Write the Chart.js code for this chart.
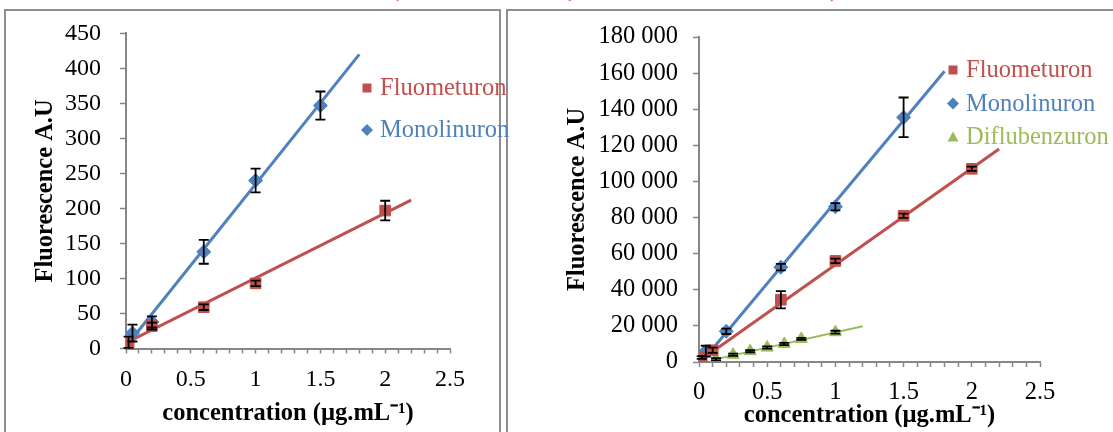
<!DOCTYPE html>
<html>
<head>
<meta charset="utf-8">
<script src="https://cdn.jsdelivr.net/npm/chart.js@4.4.1/dist/chart.umd.min.js"></script>
<style>
html, body { margin: 0; padding: 0; background: #fff; width: 1113px; height: 432px; overflow: hidden; }
body { position: relative; }
.panel { position: absolute; border: 2px solid #8f8f8f; box-sizing: border-box; }
canvas { position: absolute; left: 0; top: 0; }
.cap { position: absolute; color: #e8453c; font: 22px "Liberation Serif", serif; line-height: 22px; white-space: pre; }
</style>
</head>
<body>
<div class="panel" style="left:4px; top:9px; width:497px; height:440px;"></div>
<div class="panel" style="left:506px; top:9px; width:620px; height:440px;"></div>
<span class="cap" style="left:392px; top:-21px;">(</span>
<span class="cap" style="left:568px; top:-21px;">)</span>
<span class="cap" style="left:830px; top:-21px;">)</span>
<canvas id="leftChart" width="1113" height="432"></canvas>
<canvas id="rightChart" width="1113" height="432"></canvas>
<script>
// ---------- data : left panel ----------
const leftFluoX = [0.02, 0.2, 0.6, 1, 2];
const leftFluoY = [9, 32, 59, 93, 197];
const leftFluoErr = [8, 5, 4, 4, 14];
const leftMonoX = [0.05, 0.2, 0.6, 1, 1.5];
const leftMonoY = [22, 38, 138, 240, 347];
const leftMonoErr = [12, 8, 17, 17, 20];
const leftFluoTrendX = [0, 2.2];
const leftFluoTrendY = [8, 212];
const leftMonoTrendX = [0.03, 1.8];
const leftMonoTrendY = [10, 420];
const leftYTicks = [0, 50, 100, 150, 200, 250, 300, 350, 400, 450];

// ---------- data : right panel ----------
const rightFluoX = [0.02, 0.1, 0.6, 1, 1.5, 2];
const rightFluoY = [2500, 6500, 34500, 56000, 81000, 107000];
const rightFluoErr = [800, 1500, 4800, 1200, 1200, 1200];
const rightMonoX = [0.05, 0.2, 0.6, 1, 1.5];
const rightMonoY = [6000, 17000, 52500, 86000, 135500];
const rightMonoErr = [3000, 1500, 1800, 2000, 11000];
const rightDifluX = [0.125, 0.25, 0.375, 0.5, 0.625, 0.75, 1];
const rightDifluY = [1500, 4000, 6000, 8000, 10000, 12800, 16500];
const rightDifluErr = [600, 600, 600, 600, 600, 600, 800];
const rightFluoTrendX = [0.02, 2.2];
const rightFluoTrendY = [1500, 118000];
const rightMonoTrendX = [0.03, 1.8];
const rightMonoTrendY = [1000, 161000];
const rightDifluTrendX = [0.125, 1.2];
const rightDifluTrendY = [1600, 19800];
const rightYTicks = [0, 20000, 40000, 60000, 80000, 100000, 120000, 140000, 160000, 180000];

// ---------- shared axis labels ----------
const xTickValues = [0, 0.5, 1, 1.5, 2, 2.5];
const xMinorStep = 0.1;
const seriesNames = ['Fluometuron', 'Monolinuron', 'Diflubenzuron'];
const yTitle = 'Fluorescence A.U';
const xTitle = 'concentration (µg.mL⁻¹)';

const FONT = "'Liberation Serif', 'Times New Roman', serif";
const RED = '#C0504D', BLUE = '#4F81BD', GREEN = '#9BBB59', AXIS = '#878787';

function pts(xs, ys) { return xs.map((x, i) => ({ x: x, y: ys[i] })); }
function markers(label, xs, ys, errs, color, style, radius) {
  return { label: label, data: pts(xs, ys), errors: errs, showLine: false,
    pointStyle: style, pointRadius: radius, pointHoverRadius: radius,
    backgroundColor: color, borderColor: color, borderWidth: 1 };
}
function trend(xs, ys, color, width) {
  return { label: '', data: pts(xs, ys), showLine: true, pointRadius: 0, pointHoverRadius: 0,
    borderColor: color, backgroundColor: color, borderWidth: width, fill: false, trend: true };
}
function fmtSpace(v) { return String(v).replace(/\B(?=(\d{3})+(?!\d))/g, ' '); }

const minorTicks = [];
for (let i = 0; i <= Math.round(2.5 / xMinorStep); i++) minorTicks.push(+(i * xMinorStep).toFixed(2));

const errorBars = {
  id: 'errorBars',
  afterDatasetsDraw(chart) {
    const ctx = chart.ctx, ys = chart.scales.y, area = chart.chartArea;
    ctx.save();
    ctx.strokeStyle = '#000';
    ctx.lineWidth = 1.8;
    chart.data.datasets.forEach((ds, di) => {
      if (!ds.errors) return;
      const meta = chart.getDatasetMeta(di);
      meta.data.forEach((el, i) => {
        const v = ds.data[i].y, e = ds.errors[i];
        const top = ys.getPixelForValue(v + e);
        const bot = Math.min(ys.getPixelForValue(v - e), area.bottom);
        const x = el.x;
        ctx.beginPath();
        ctx.moveTo(x, top); ctx.lineTo(x, bot);
        ctx.moveTo(x - 5, top); ctx.lineTo(x + 5, top);
        ctx.moveTo(x - 5, bot); ctx.lineTo(x + 5, bot);
        ctx.stroke();
      });
    });
    ctx.restore();
  }
};

const sideLegend = {
  id: 'sideLegend',
  afterDraw(chart, args, opts) {
    const ctx = chart.ctx;
    ctx.save();
    opts.items.forEach((di, k) => {
      const ds = chart.data.datasets[di];
      const x = opts.x, y = opts.y + k * opts.dy;
      ctx.fillStyle = ds.backgroundColor;
      ctx.beginPath();
      if (ds.pointStyle === 'rect') {
        ctx.rect(x - 4.5, y - 4.5, 9, 9);
      } else if (ds.pointStyle === 'rectRot') {
        ctx.moveTo(x, y - 6); ctx.lineTo(x + 6, y); ctx.lineTo(x, y + 6); ctx.lineTo(x - 6, y);
        ctx.closePath();
      } else {
        ctx.moveTo(x, y - 5.5); ctx.lineTo(x + 5.5, y + 4.5); ctx.lineTo(x - 5.5, y + 4.5);
        ctx.closePath();
      }
      ctx.fill();
      ctx.font = opts.fontSize + 'px ' + FONT;
      ctx.textBaseline = 'middle';
      ctx.textAlign = 'left';
      ctx.fillText(ds.label, x + opts.gap, y + 1);
    });
    ctx.restore();
  }
};

function makeScales(o) {
  return {
    x: {
      type: 'linear', position: 'bottom', min: 0, max: 2.5,
      afterBuildTicks: s => { s.ticks = minorTicks.map(v => ({ value: v })); },
      afterFit: s => { s.height = o.xHeight; },
      ticks: {
        autoSkip: false, maxRotation: 0, minRotation: 0, padding: o.xPad, color: '#000',
        font: { family: FONT, size: o.tickSize },
        callback: v => xTickValues.some(t => Math.abs(t - v) < 1e-6) ? String(+v.toFixed(1)) : ''
      },
      grid: { display: true, drawOnChartArea: false, drawTicks: true, tickLength: 5, tickColor: AXIS, tickWidth: 1.5 },
      border: { display: true, color: AXIS, width: 2 },
      title: { display: true, text: xTitle, color: '#000',
        font: { family: FONT, size: o.titleSize, weight: 'bold' }, padding: { top: 0, bottom: o.xTitlePad } }
    },
    y: {
      type: 'linear', position: 'left', min: 0, max: o.yMax,
      afterBuildTicks: s => { s.ticks = o.yTicks.map(v => ({ value: v })); },
      afterFit: s => { s.width = o.yWidth; },
      ticks: { padding: o.yPad, color: '#000', font: { family: FONT, size: o.tickSize },
        callback: v => fmtSpace(v) },
      grid: { display: true, drawOnChartArea: false, drawTicks: true, tickLength: 6, tickColor: AXIS, tickWidth: 1.5 },
      border: { display: true, color: AXIS, width: 2 },
      title: { display: true, text: yTitle, color: '#000',
        font: { family: FONT, size: o.titleSize, weight: 'bold' }, padding: { top: o.yTitlePad, bottom: 0 } }
    }
  };
}

function baseOptions(o) {
  return {
    responsive: false, animation: false, devicePixelRatio: 1, events: [],
    layout: { padding: o.padding },
    scales: makeScales(o),
    plugins: { legend: { display: false }, tooltip: { enabled: false }, sideLegend: o.legend }
  };
}

new Chart(document.getElementById('leftChart'), {
  type: 'scatter',
  data: { datasets: [
    markers(seriesNames[0], leftFluoX, leftFluoY, leftFluoErr, RED, 'rect', 7.5),
    markers(seriesNames[1], leftMonoX, leftMonoY, leftMonoErr, BLUE, 'rectRot', 7),
    trend(leftFluoTrendX, leftFluoTrendY, RED, 3),
    trend(leftMonoTrendX, leftMonoTrendY, BLUE, 3)
  ] },
  options: baseOptions({
    padding: { left: 0, top: 32, right: 663, bottom: 0 },
    xHeight: 83.5, yWidth: 126, yMax: 450, yTicks: leftYTicks,
    tickSize: 24, titleSize: 24.5, xPad: 12, yPad: 19, xTitlePad: 4, yTitlePad: 31,
    legend: { items: [0, 1], x: 367, y: 88, dy: 42, gap: 13, fontSize: 24.5 }
  }),
  plugins: [errorBars, sideLegend]
});

new Chart(document.getElementById('rightChart'), {
  type: 'scatter',
  data: { datasets: [
    markers(seriesNames[0], rightFluoX, rightFluoY, rightFluoErr, RED, 'rect', 7.5),
    markers(seriesNames[1], rightMonoX, rightMonoY, rightMonoErr, BLUE, 'rectRot', 7),
    markers(seriesNames[2], rightDifluX, rightDifluY, rightDifluErr, GREEN, 'triangle', 7),
    trend(rightFluoTrendX, rightFluoTrendY, RED, 3),
    trend(rightMonoTrendX, rightMonoTrendY, BLUE, 3),
    trend(rightDifluTrendX, rightDifluTrendY, GREEN, 2)
  ] },
  options: baseOptions({
    padding: { left: 560, top: 37, right: 73, bottom: 0 },
    xHeight: 70, yWidth: 139, yMax: 180000, yTicks: rightYTicks,
    tickSize: 24.5, titleSize: 24.5, xPad: 11, yPad: 15, xTitlePad: 2, yTitlePad: 3,
    legend: { items: [0, 1, 2], x: 953, y: 70, dy: 33.5, gap: 13, fontSize: 24.5 }
  }),
  plugins: [errorBars, sideLegend]
});
</script>
</body>
</html>
